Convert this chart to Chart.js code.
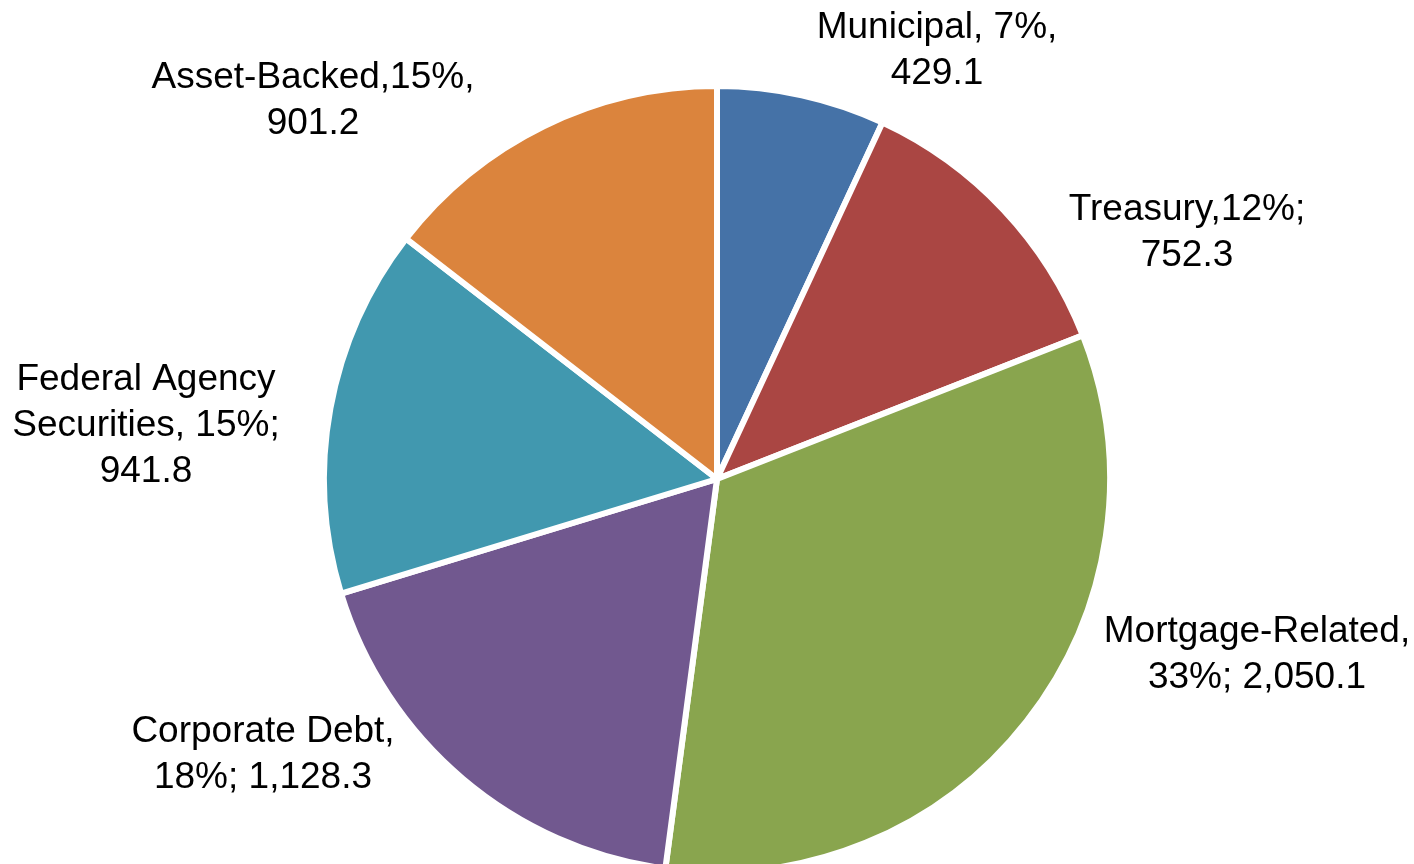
<!DOCTYPE html>
<html>
<head>
<meta charset="utf-8">
<script src="https://cdn.jsdelivr.net/npm/chart.js@4"></script>
<style>
  html, body { margin: 0; padding: 0; background: #fff; overflow: hidden; }
  #wrap { width: 1414px; height: 864px; position: relative; }
</style>
</head>
<body>
<div id="wrap"><canvas id="bondChart"></canvas></div>
<script>
// outstanding bond market debt by sector
const sectors = ["Municipal", "Treasury", "Mortgage-Related", "Corporate Debt", "Federal Agency Securities", "Asset-Backed"];
const amounts = [429.1, 752.3, 2050.1, 1128.3, 941.8, 901.2];
const colors = ["#4572A7", "#AA4643", "#89A54E", "#71588F", "#4198AF", "#DB843D"];

// label text per slice, {p} = share, {v} = amount
const labelLines = [
    ["Municipal, {p}%,", "{v}"],
    ["Treasury,{p}%;", "{v}"],
    ["Mortgage-Related,", "{p}%; {v}"],
    ["Corporate Debt,", "{p}%; {v}"],
    ["Federal Agency", "Securities, {p}%;", "{v}"],
    ["Asset-Backed,{p}%,", "{v}"]
];
// centre x and first-line y for each label block
const labelX = [937, 1187, 1257, 263, 146, 313];
const labelY = [28, 210, 632, 732, 380, 78];
const lineHeight = 46;

const total = amounts.reduce((a, b) => a + b, 0);

const sliceLabels = {
    id: "sliceLabels",
    afterDraw(chart) {
        const ctx = chart.ctx;
        ctx.save();
        ctx.fillStyle = "#000";
        ctx.font = "37px 'Liberation Sans', Arial, sans-serif";
        ctx.textAlign = "center";
        ctx.textBaseline = "middle";
        amounts.forEach((v, i) => {
            const pct = Math.round(v / total * 100);
            const val = v.toLocaleString("en-US", { minimumFractionDigits: 1, maximumFractionDigits: 1 });
            labelLines[i].forEach((line, j) => {
                const txt = line.replace("{p}", pct).replace("{v}", val);
                ctx.fillText(txt, labelX[i], labelY[i] + j * lineHeight);
            });
        });
        ctx.restore();
    }
};

new Chart(document.getElementById("bondChart"), {
    type: "pie",
    data: {
        labels: sectors,
        datasets: [{
            data: amounts,
            backgroundColor: colors,
            borderColor: "#fff",
            borderWidth: 6,
            hoverOffset: 0
        }]
    },
    options: {
        responsive: true,
        maintainAspectRatio: false,
        animation: false,
        radius: 393,
        layout: { padding: { top: 94, bottom: 0, left: 20, right: 0 } },
        plugins: {
            legend: { display: false },
            tooltip: { enabled: false }
        }
    },
    plugins: [sliceLabels]
});
</script>
</body>
</html>
